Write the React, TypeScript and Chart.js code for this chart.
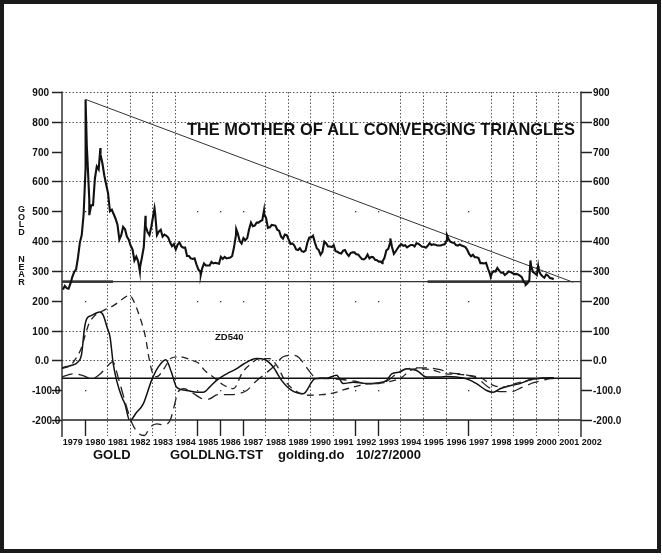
import React, { useEffect, useRef } from "react";
import { Chart, registerables } from "chart.js";
Chart.register(...registerables);

// ---- DATA ----
const goldStartYear = 1979;
// Gold "near" futures, approx monthly levels Jan 1979 .. Oct 2000
const goldMonthly = [
  238, 250, 242, 240, 258, 280, 297, 305, 345, 395, 420, 490,
  640, 680, 540, 520, 520, 610, 650, 640, 690, 660, 620, 590,
  560, 500, 505, 490, 475, 455, 405, 420, 448, 440, 415, 405,
  385, 372, 335, 348, 332, 312, 345, 380, 450, 430, 420, 448,
  485, 495, 420, 432, 438, 415, 422, 418, 412, 395, 383, 390,
  372, 388, 395, 382, 378, 378, 350, 350, 342, 340, 342, 322,
  305, 298, 308, 325, 318, 318, 318, 330, 325, 327, 326, 324,
  347, 340, 347, 342, 343, 345, 350, 380, 420, 425, 400, 392,
  410, 403, 410, 440, 462, 450, 452, 462, 462, 467, 470, 490,
  478, 444, 446, 454, 453, 452, 438, 434, 415, 408, 422, 420,
  406, 390, 392, 386, 372, 370, 376, 366, 364, 368, 395, 412,
  412, 418, 395, 376, 370, 354, 364, 398, 392, 382, 382, 380,
  386, 366, 364, 360, 358, 368, 370, 358, 350, 360, 362, 362,
  356, 355, 347, 340, 339, 343, 355, 342, 347, 346, 337, 336,
  331, 331, 332, 344, 369, 374, 394, 380, 357, 366, 376, 385,
  389, 384, 386, 379, 383, 387, 387, 382, 393, 391, 386, 381,
  381, 378, 384, 393, 387, 389, 388, 385, 385, 385, 388, 389,
  402, 408, 398, 395, 394, 387, 385, 389, 385, 383, 380, 371,
  357, 349, 354, 346, 346, 343, 326, 326, 325, 327, 308, 291,
  291, 299, 298, 310, 301, 294, 295, 286, 291, 298, 296, 293,
  289, 290, 288, 284, 279, 264, 258, 258, 268, 315, 296, 292,
  286, 302, 289, 282, 277, 288, 284, 276, 275, 272,
];
// intra-month extremes
const goldExtremeDates = [1980.045, 1980.1, 1980.21, 1980.7, 1982.45, 1982.7, 1983.1, 1985.15, 1986.72, 1987.95, 1993.2, 1993.55, 1996.06, 1998.0, 1999.55, 1999.76, 2000.1];
const goldExtremeValues = [875, 717, 487, 712, 298, 485, 510, 287, 440, 502, 326, 409, 420, 280, 253, 335, 316];

// Triangle lines
const upperTrendDates = [1980.05, 2001.65];
const upperTrendValues = [875, 262];
const supportLevel = 264;
const supportThickSegments = [[1979.0, 1981.26], [1995.2, 1999.7]];
const oscBaseLevel = -60;

// ZD540 oscillator lines
const oscSolidYears = [1979.0, 1979.4, 1979.7, 1979.87, 1980.0, 1980.1, 1980.3, 1980.5, 1980.68, 1980.83, 1981.0, 1981.13, 1981.27, 1981.42, 1981.65, 1981.79, 1982.0, 1982.3, 1982.6, 1982.97, 1983.27, 1983.6, 1983.85, 1984.08, 1984.53, 1985.0, 1985.26, 1985.6, 1985.85, 1986.3, 1986.74, 1987.03, 1987.63, 1988.0, 1988.36, 1988.73, 1989.18, 1989.69, 1990.21, 1990.73, 1991.17, 1991.46, 1991.91, 1992.5, 1992.94, 1993.39, 1993.61, 1993.98, 1994.27, 1994.72, 1995.16, 1995.75, 1996.04, 1996.49, 1996.93, 1997.37, 1997.82, 1998.11, 1998.41, 1998.85, 1999.3, 1999.7, 2000.2, 2000.8];
const oscSolidValues = [-25, -17, -6, 22, 110, 140, 150, 158, 162, 151, 110, 78, -11, -67, -123, -146, -202, -175, -146, -67, -22, 2, -40, -90, -101, -107, -107, -85, -67, -45, -28, -13, 6, 2, -22, -67, -101, -112, -62, -60, -50, -78, -73, -78, -76, -67, -45, -39, -28, -34, -56, -56, -54, -56, -62, -78, -101, -107, -95, -85, -78, -66, -60, -58];

const oscDashYears = [1979.0, 1979.4, 1979.6, 1979.85, 1980.05, 1980.2, 1980.45, 1980.7, 1980.95, 1981.2, 1981.5, 1981.8, 1982.0, 1982.2, 1982.45, 1982.7, 1982.85, 1983.0, 1983.2, 1983.5, 1983.85, 1984.2, 1984.7, 1985.1, 1985.3, 1985.7, 1986.1, 1986.6, 1987.0, 1987.4, 1987.7, 1988.2, 1988.5, 1988.9, 1989.3, 1989.9, 1990.5, 1991.0, 1991.5, 1991.9, 1992.4, 1993.0, 1993.6, 1994.1, 1994.4, 1994.8, 1995.4, 1996.0, 1996.6, 1997.2, 1997.6, 1998.0, 1998.5, 1999.0, 1999.5, 2000.0, 2000.8];
const oscDashValues = [-28, -15, 5, 40, 90, 124, 150, 162, 172, 180, 195, 212, 218, 195, 145, 78, 10, -40, -55, -30, 8, 12, 2, -12, -32, -56, -80, -95, -40, -10, 5, 6, -15, -70, -100, -117, -115, -110, -98, -90, -80, -77, -70, -55, -35, -28, -32, -45, -47, -52, -60, -80, -90, -80, -70, -62, -58];

const oscLongYears = [1979.0, 1979.5, 1979.9, 1980.3, 1980.7, 1981.0, 1981.25, 1981.5, 1981.8, 1982.1, 1982.4, 1982.65, 1982.9, 1983.2, 1983.5, 1983.8, 1983.95, 1984.15, 1984.4, 1984.8, 1985.2, 1985.5, 1985.9, 1986.5, 1987.2, 1987.6, 1988.0, 1988.4, 1988.8, 1989.2, 1989.5, 1989.8, 1990.2, 1990.5, 1991.0, 1991.5, 1992.0, 1992.5, 1993.0, 1993.4, 1993.9, 1994.3, 1995.0, 1995.7, 1996.2, 1996.8, 1997.4, 1997.9, 1998.4, 1998.9, 1999.4, 1999.9, 2000.4, 2000.8];
const oscLongValues = [-55, -45, -50, -62, -45, -20, -5, -60, -140, -210, -245, -252, -225, -213, -216, -200, -160, -105, -95, -110, -128, -130, -115, -115, -100, -70, -45, -20, 12, 17, 10, -20, -56, -60, -62, -65, -70, -78, -78, -70, -40, -28, -25, -30, -42, -47, -60, -90, -105, -105, -90, -75, -65, -60];

// Axes
const yearLabels = ["1979", "1980", "1981", "1982", "1983", "1984", "1985", "1986", "1987", "1988", "1989", "1990", "1991", "1992", "1993", "1994", "1995", "1996", "1997", "1998", "1999", "2000", "2001", "2002"];
const gridYears = [1981, 1982, 1983, 1984, 1988, 1989, 1990, 1991, 1994, 1995, 1996, 1998, 1999, 2000, 2001];
const tickYears = [1980, 1985, 1986, 1987, 1992, 1993, 1997];
const valueTicks = [900, 800, 700, 600, 500, 400, 300, 200, 100, 0, -100, -200];
const valueTickLabels = ["900", "800", "700", "600", "500", "400", "300", "200", "100", "0.0", "-100.0", "-200.0"];
const dottedRows = [900, 800, 600, 400, 300, 100, 0];
const sparseDotValues = [800, 500, 200, -100];

const titleText = "THE MOTHER OF ALL CONVERGING TRIANGLES";
const oscLabel = "ZD540";
const sideLabelTop = ["G", "O", "L", "D"];
const sideLabelBottom = ["N", "E", "A", "R"];
const footer = ["GOLD", "GOLDLNG.TST", "golding.do", "10/27/2000"];

const FONT = "'Liberation Sans', Arial, Helvetica, sans-serif";

function pts(xs: number[], ys: number[]) {
  return xs.map((x, i) => ({ x, y: ys[i] }));
}

function goldPoints() {
  const p = goldMonthly.map((v, i) => ({ x: goldStartYear + (i + 0.5) / 12, y: v }));
  goldExtremeDates.forEach((d, i) => p.push({ x: d, y: goldExtremeValues[i] }));
  p.sort((a, b) => a.x - b.x);
  return p;
}

const decorPlugin = {
  id: "decor",
  beforeDatasetsDraw(chart: any) {
    const { ctx, chartArea: ca } = chart;
    const xs = chart.scales.x;
    const ys = chart.scales.y;
    const line = (x1: number, y1: number, x2: number, y2: number) => {
      ctx.beginPath();
      ctx.moveTo(x1, y1);
      ctx.lineTo(x2, y2);
      ctx.stroke();
    };
    ctx.save();
    // dotted horizontal grid
    ctx.strokeStyle = "#555";
    ctx.lineWidth = 1;
    ctx.setLineDash([1.5, 2]);
    dottedRows.forEach((v) => {
      const py = Math.round(ys.getPixelForValue(v)) + 0.5;
      line(ca.left, py, ca.right, py);
    });
    // dotted vertical grid
    gridYears.forEach((yr) => {
      const px = Math.round(xs.getPixelForValue(yr)) + 0.5;
      line(px, ca.top, px, ca.bottom + 16);
    });
    ctx.setLineDash([]);
    // sparse dots for non-grid years
    ctx.fillStyle = "#333";
    tickYears.forEach((yr) => {
      const px = Math.round(xs.getPixelForValue(yr));
      sparseDotValues.forEach((v) => {
        const py = Math.round(ys.getPixelForValue(v));
        ctx.fillRect(px, py, 1.3, 1.3);
      });
    });
    // solid tick marks below plot
    ctx.strokeStyle = "#222";
    ctx.lineWidth = 1.4;
    tickYears.forEach((yr) => {
      const px = Math.round(xs.getPixelForValue(yr)) + 0.5;
      line(px, ca.bottom, px, ca.bottom + 16);
    });
    // bottom line (-200)
    ctx.lineWidth = 1.3;
    line(ca.left, ca.bottom, ca.right, ca.bottom);
    // axes
    ctx.strokeStyle = "#333";
    ctx.lineWidth = 1.5;
    line(ca.left, ca.top - 0.5, ca.left, ca.bottom + 17);
    line(ca.right, ca.top - 0.5, ca.right, ca.bottom + 17);
    // value ticks and labels
    ctx.fillStyle = "#111";
    ctx.font = `bold 10px ${FONT}`;
    ctx.textBaseline = "middle";
    valueTicks.forEach((v, i) => {
      const py = Math.round(ys.getPixelForValue(v)) + 0.5;
      ctx.strokeStyle = "#222";
      ctx.lineWidth = 1.5;
      line(ca.left - 10, py, ca.left, py);
      line(ca.right, py, ca.right + 11, py);
      const lab = valueTickLabels[i];
      if (lab.length > 4) {
        ctx.textAlign = "left";
        ctx.fillText(lab, 32, py + 0.5);
      } else {
        ctx.textAlign = "right";
        ctx.fillText(lab, 49, py + 0.5);
      }
      ctx.textAlign = "left";
      ctx.fillText(lab, ca.right + 12, py + 0.5);
    });
    // year labels
    ctx.font = `bold 9px ${FONT}`;
    ctx.textBaseline = "alphabetic";
    ctx.textAlign = "left";
    yearLabels.forEach((lab) => {
      const px = xs.getPixelForValue(Number(lab));
      ctx.fillText(lab, px + 0.8, ca.bottom + 25);
    });
    ctx.restore();
  },
  afterDraw(chart: any) {
    const { ctx } = chart;
    ctx.save();
    ctx.fillStyle = "#111";
    // title
    ctx.font = `bold 16.4px ${FONT}`;
    ctx.textAlign = "left";
    ctx.textBaseline = "alphabetic";
    ctx.fillText(titleText, 187, 135);
    // oscillator label
    ctx.font = `bold 9.5px ${FONT}`;
    ctx.fillText(oscLabel, 215, 340);
    // side label
    ctx.font = `bold 9px ${FONT}`;
    ctx.textAlign = "center";
    ctx.textBaseline = "middle";
    sideLabelTop.forEach((ch, i) => ctx.fillText(ch, 21.5, 209.7 + i * 7.6));
    sideLabelBottom.forEach((ch, i) => ctx.fillText(ch, 21.5, 259.7 + i * 7.5));
    // footer
    ctx.font = `bold 13px ${FONT}`;
    ctx.textAlign = "left";
    ctx.textBaseline = "alphabetic";
    const fx = [93, 170, 278, 356];
    footer.forEach((t, i) => ctx.fillText(t, fx[i], 459));
    // frame
    ctx.strokeStyle = "#1a1a1a";
    ctx.lineWidth = 4;
    ctx.strokeRect(2, 2, 657, 549);
    ctx.restore();
  },
};

export default function App() {
  const ref = useRef<HTMLCanvasElement | null>(null);
  useEffect(() => {
    if (!ref.current) return;
    const datasets: any[] = [
      {
        data: goldPoints(),
        borderColor: "#111",
        borderWidth: 2.1,
        pointRadius: 0,
        tension: 0,
        clip: false,
      },
      {
        data: pts(upperTrendDates, upperTrendValues),
        borderColor: "#333",
        borderWidth: 1,
        pointRadius: 0,
      },
      {
        data: [{ x: 1979, y: supportLevel }, { x: 2002, y: supportLevel }],
        borderColor: "#333",
        borderWidth: 1.2,
        pointRadius: 0,
      },
      ...supportThickSegments.map((s) => ({
        data: [{ x: s[0], y: supportLevel }, { x: s[1], y: supportLevel }],
        borderColor: "#444",
        borderWidth: 2.6,
        pointRadius: 0,
      })),
      {
        data: [{ x: 1979, y: oscBaseLevel }, { x: 2002, y: oscBaseLevel }],
        borderColor: "#111",
        borderWidth: 1.5,
        pointRadius: 0,
      },
      {
        data: pts(oscLongYears, oscLongValues),
        borderColor: "#222",
        borderWidth: 1.3,
        borderDash: [11, 6],
        pointRadius: 0,
        cubicInterpolationMode: "monotone",
        clip: false,
      },
      {
        data: pts(oscDashYears, oscDashValues),
        borderColor: "#222",
        borderWidth: 1.3,
        borderDash: [7, 5],
        pointRadius: 0,
        cubicInterpolationMode: "monotone",
        clip: false,
      },
      {
        data: pts(oscSolidYears, oscSolidValues),
        borderColor: "#111",
        borderWidth: 1.5,
        pointRadius: 0,
        cubicInterpolationMode: "monotone",
      },
    ];
    const chart = new Chart(ref.current, {
      type: "line",
      data: { datasets },
      options: {
        animation: false,
        responsive: false,
        devicePixelRatio: 1,
        events: [],
        layout: { padding: { left: 62, right: 81, top: 92, bottom: 140 } },
        scales: {
          x: { type: "linear", min: 1979, max: 2002, display: false },
          y: { type: "linear", min: -200, max: 900, display: false },
        },
        plugins: { legend: { display: false }, tooltip: { enabled: false } },
      },
      plugins: [decorPlugin],
    } as any);
    return () => chart.destroy();
  }, []);
  return (
    <div style={{ position: "fixed", left: 0, top: 0, width: 662, height: 560, background: "#fff" }}>
      <canvas ref={ref} width={662} height={560} style={{ display: "block", width: 662, height: 560 }} />
    </div>
  );
}
